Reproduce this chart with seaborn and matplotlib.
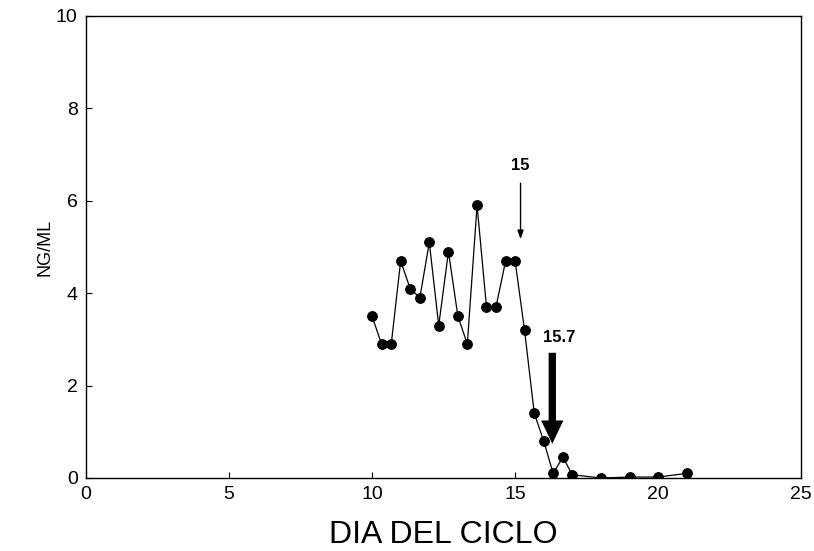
import matplotlib
matplotlib.use("Agg")
from matplotlib import pyplot as plt
import seaborn as sns
import pandas as pd

# datos (dia del ciclo vs ng/ml)
dia = [10, 10.33, 10.67, 11, 11.33, 11.67, 12, 12.33, 12.67, 13, 13.33, 13.67,
       14, 14.33, 14.67, 15, 15.33, 15.67, 16, 16.33, 16.67, 17, 18, 19, 20, 21]
ngml = [3.5, 2.9, 2.9, 4.7, 4.1, 3.9, 5.1, 3.3, 4.9, 3.5, 2.9, 5.9,
        3.7, 3.7, 4.7, 4.7, 3.2, 1.4, 0.8, 0.1, 0.45, 0.07, 0.0, 0.02, 0.02, 0.1]

x_ticks = [0, 5, 10, 15, 20, 25]
y_ticks = [0, 2, 4, 6, 8, 10]

df = pd.DataFrame({"dia": dia, "ngml": ngml})

sns.set_style("ticks")
plt.rcParams["font.family"] = ["Liberation Sans", "DejaVu Sans"]
plt.rcParams["text.color"] = "black"
plt.rcParams["axes.labelcolor"] = "black"
plt.rcParams["xtick.color"] = "black"
plt.rcParams["ytick.color"] = "black"

fig = plt.figure(figsize=(8.14, 5.51), dpi=100)
ax = fig.add_axes([0.1057, 0.1325, 0.8785, 0.8385])

sns.lineplot(data=df, x="dia", y="ngml", ax=ax, color="black", linewidth=0.9,
             marker="o", markersize=7, markeredgecolor="black", markerfacecolor="black")

ax.set_xlim(0, 25)
ax.set_ylim(0, 10)
ax.set_xticks(x_ticks)
ax.set_yticks(y_ticks)
ax.tick_params(direction="in", length=4, width=0.8, labelsize=14, pad=6)
for s in ax.spines.values():
    s.set_linewidth(1.0)
    s.set_color("black")

ax.set_xlabel("DIA DEL CICLO", fontsize=23, labelpad=12)
ax.set_ylabel("NG/ML", fontsize=13, labelpad=2)

# flecha fina (dia 15)
ax.annotate("", xy=(15.19, 5.11), xytext=(15.19, 6.44),
            arrowprops=dict(arrowstyle="-|>,head_length=0.5,head_width=0.18", color="black", lw=1.0))
ax.text(15.19, 6.76, "15", ha="center", va="center", fontsize=12, fontweight="bold")

# flecha gruesa (dia 15.7)
ax.annotate("", xy=(16.3, 0.68), xytext=(16.3, 2.77),
            arrowprops=dict(arrowstyle="simple,head_length=1.05,head_width=1.0,tail_width=0.33",
                            mutation_scale=16, color="black", lw=0))
ax.text(16.54, 3.05, "15.7", ha="center", va="center", fontsize=12, fontweight="bold")

fig.savefig("out.png", dpi=100)
